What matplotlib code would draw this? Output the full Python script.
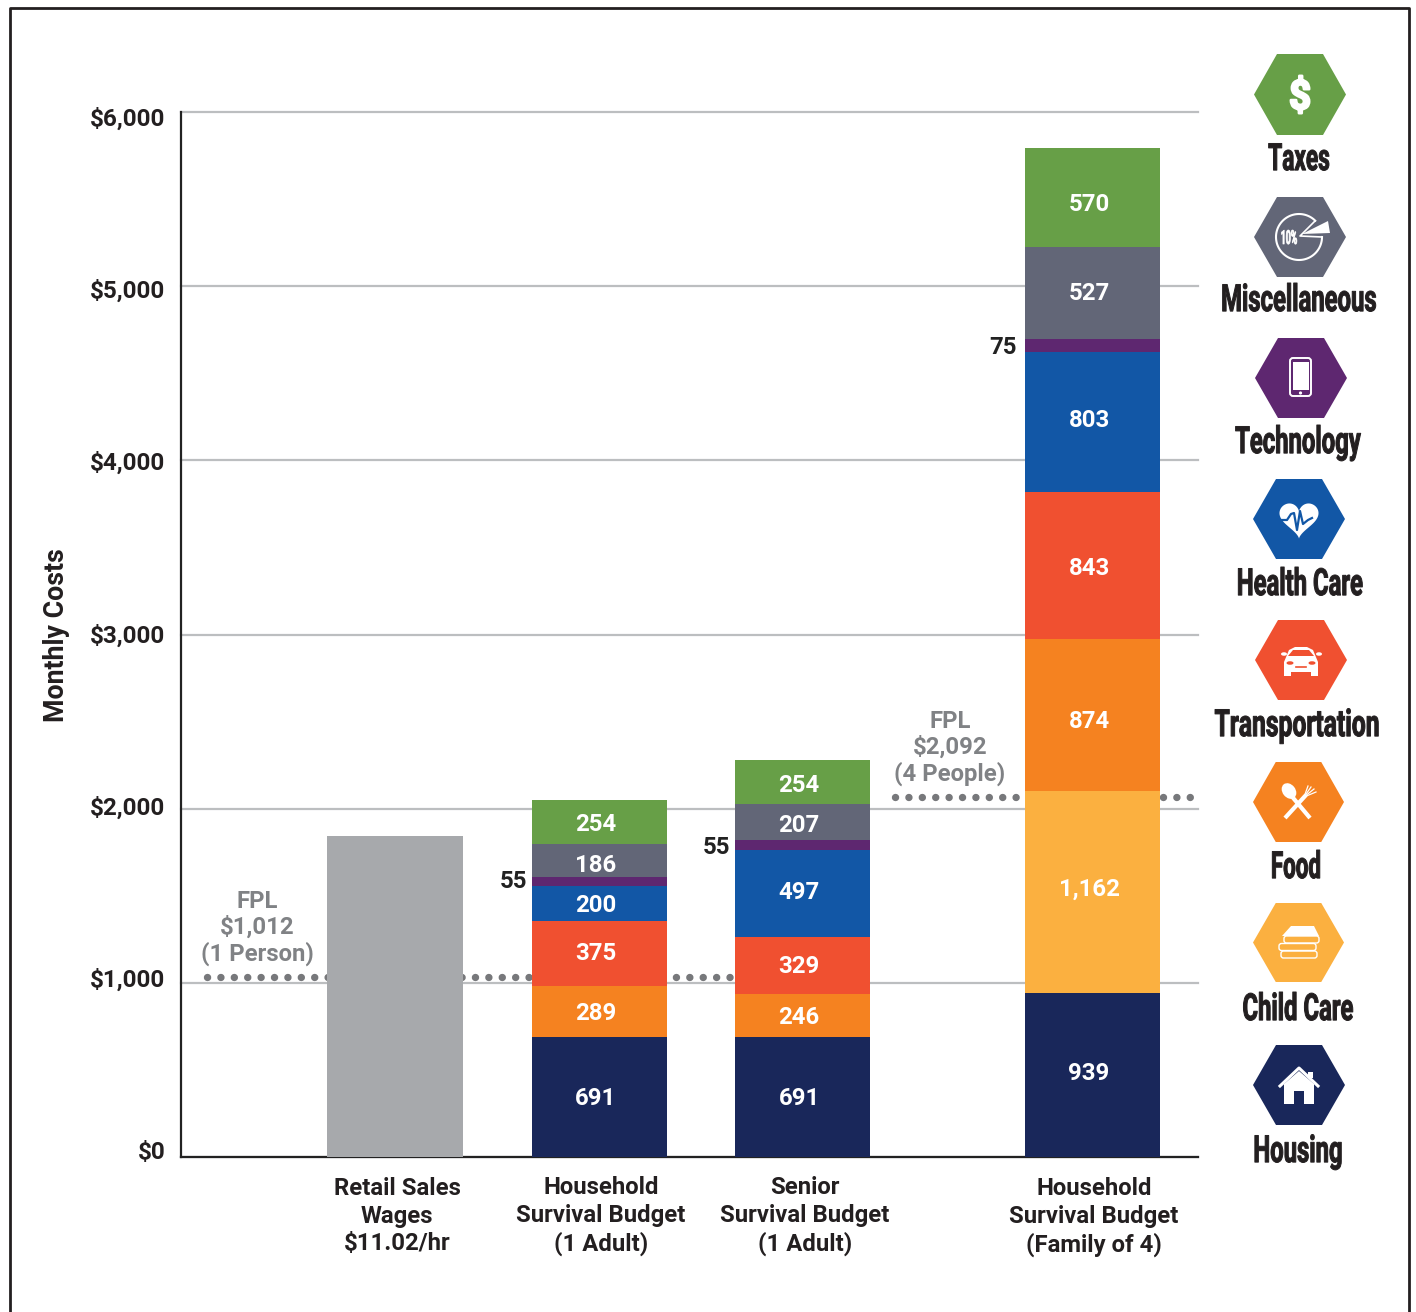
import numpy as np
import matplotlib
matplotlib.use("Agg")
import matplotlib.pyplot as plt
from matplotlib.patches import Polygon, Circle, Ellipse, FancyBboxPatch, Rectangle
from matplotlib.patheffects import AbstractPathEffect
from matplotlib.transforms import Affine2D

W, H = 1416, 1312

# values
categories = ["Retail Sales\nWages\n$11.02/hr", "Household\nSurvival Budget\n(1 Adult)",
              "Senior\nSurvival Budget\n(1 Adult)", "Household\nSurvival Budget\n(Family of 4)"]
retail_wage = [1843, 0, 0, 0]
housing = [0, 691, 691, 939]
child_care = [0, 0, 0, 1162]
food = [0, 289, 246, 874]
transportation = [0, 375, 329, 843]
health_care = [0, 200, 497, 803]
technology = [0, 55, 55, 75]
miscellaneous = [0, 186, 207, 527]
taxes = [0, 254, 254, 570]
y_ticks = [0, 1000, 2000, 3000, 4000, 5000, 6000]
y_tick_labels = ["$0", "$1,000", "$2,000", "$3,000", "$4,000", "$5,000", "$6,000"]
fpl_levels = [1033, 2066]
fpl_labels = ["FPL\n$1,012\n(1 Person)", "FPL\n$2,092\n(4 People)"]
legend_names = ["Taxes", "Miscellaneous", "Technology", "Health Care",
                "Transportation", "Food", "Child Care", "Housing"]

series = [housing, child_care, food, transportation, health_care, technology, miscellaneous, taxes]
colors = ["#19275A", "#FBB040", "#F58220", "#F05030", "#1257A6", "#5E2770", "#626677", "#679F47"]
legend_colors = colors[::-1]

# small vertical nudges of the value labels, in pixels (per series, per bar)
label_nudge = [[0, 2, 2, -2], [0, 0, 0, -3], [0, 2, 2, 7], [0, 0, 1, 3],
               [0, 2, -1, -2], [0, 0, 2, 2], [0, 5, 3, 0], [0, 2, 3, 7]]
outside_gap = [0, 5, 5, 8]

plt.rcParams["font.family"] = ["Roboto", "DejaVu Sans"]
plt.rcParams["font.weight"] = "bold"


class Squeeze(AbstractPathEffect):
    # the legend font is a tall condensed face, none is installed so reshape Roboto instead
    def __init__(self, cx, cy, sx, sy=1.0, stroke=0.0):
        super().__init__()
        self.cx, self.cy, self.sx, self.sy, self.stroke = cx, cy, sx, sy, stroke

    def draw_path(self, renderer, gc, tpath, affine, rgbFace=None):
        tr = affine + Affine2D().translate(-self.cx, -self.cy).scale(self.sx, self.sy).translate(self.cx, self.cy)
        gc0 = renderer.new_gc()
        gc0.copy_properties(gc)
        if self.stroke > 0:
            gc0.set_linewidth(self.stroke)
            gc0.set_foreground(rgbFace)
        else:
            gc0.set_linewidth(0)
        renderer.draw_path(gc0, tpath, tr, rgbFace)
        gc0.restore()


fig = plt.figure(figsize=(W / 100, H / 100), dpi=100)

# main axes, x axis in pixels so the uneven bar spacing is easy to place
ax = fig.add_axes([181 / W, 1 - 1157 / H, (1198 - 181) / W, (1157 - 112) / H])
ax.set_xlim(181, 1198)
ax.set_ylim(0, 6000)
for s in ["top", "right"]:
    ax.spines[s].set_visible(False)
ax.spines["left"].set_linewidth(1.6)
ax.spines["left"].set_color("#222222")
ax.spines["bottom"].set_linewidth(1.6)
ax.spines["bottom"].set_color("#222222")
ax.set_xticks([])
ax.set_yticks(y_ticks)
ax.set_yticklabels([])
ax.tick_params(length=0)
ax.grid(axis="y", color="#BCBEC0", linewidth=1.6, zorder=0, clip_on=False)
ax.set_axisbelow(True)

bar_x = [395, 599.5, 802.5, 1092.5]
bar_w = [136, 135, 135, 135]
px_per_dollar = (1157 - 112) / 6000

ax.bar(bar_x[0], retail_wage[0], width=bar_w[0], color="#A7A9AC", zorder=3)
bottom = np.zeros(4)
for k, (vals, col) in enumerate(zip(series, colors)):
    vals = np.array(vals)
    ax.bar(bar_x, vals, width=bar_w, bottom=bottom, color=col, zorder=3)
    for i in range(4):
        y_lab = bottom[i] + vals[i] / 2 - label_nudge[k][i] / px_per_dollar
        if vals[i] > 100:
            ax.text(bar_x[i] - 3.5, y_lab, f"{vals[i]:,}", color="white",
                    ha="center", va="center", fontsize=17.3, zorder=4)
        elif vals[i] > 0:
            ax.text(bar_x[i] - bar_w[i] / 2 - outside_gap[i], y_lab, str(vals[i]), color="#222222",
                    ha="right", va="center", fontsize=17.3, zorder=4)
    bottom += vals

# FPL dotted lines, they run behind the bars
dots = dict(color="#77787B", linewidth=5.3, linestyle=(0, (0.01, 1.81)), dash_capstyle="round", zorder=2)
ax.plot([206.5, 735], [fpl_levels[0]] * 2, **dots)
ax.plot([895, 1195], [fpl_levels[1]] * 2, **dots)

# overlay in figure pixels for the text and icons
ov = fig.add_axes([0, 0, 1, 1], zorder=5)
ov.set_xlim(0, W)
ov.set_ylim(H, 0)
ov.axis("off")

ov.plot([10, 10, 1409, 1409], [H, 8, 8, H], color="#231F20", linewidth=2)

tick_label_y = [1153, 980, 808, 636, 463, 291, 119]
for lab, y in zip(y_tick_labels, tick_label_y):
    ov.text(165.5, y, lab, ha="right", va="center", fontsize=17.5, color="#231F20")
ov.text(56.5, 635, "Monthly Costs", rotation=90, ha="center", va="center", fontsize=19.3, color="#231F20")

cat_x = [397, 601, 805, 1094]
cat_y = [1216, 1216, 1216, 1217]
for lab, x, y in zip(categories, cat_x, cat_y):
    ov.text(x, y, lab, ha="center", va="center", fontsize=17.2, color="#231F20", linespacing=1.27)

for lab, x, y in zip(fpl_labels, [257, 950], [928, 748]):
    ov.text(x, y, lab, ha="center", va="center", fontsize=17.2, color="#808285", linespacing=1.17)


def hexagon(x0, x1, y0, y1, col):
    q = (x1 - x0) / 4
    pts = [(x0, (y0 + y1) / 2), (x0 + q, y0), (x1 - q, y0), (x1, (y0 + y1) / 2), (x1 - q, y1), (x0 + q, y1)]
    ov.add_patch(Polygon(pts, closed=True, facecolor=col, edgecolor="none"))


hex_x = [(1254, 1346), (1254, 1346), (1255, 1347), (1253, 1345), (1255, 1347), (1253, 1344), (1253, 1344), (1253, 1345)]
hex_y = [(54, 135), (197, 277), (338, 418), (479, 559), (620, 700), (762, 842), (903, 982), (1045, 1125)]
name_x = [1299, 1299, 1298, 1300, 1297, 1296, 1298, 1298]
name_y = [160, 301, 443, 585, 726, 868, 1010, 1152]
name_sx = [0.68, 0.715, 0.715, 0.715, 0.74, 0.67, 0.715, 0.715]
for name, col, hx, hy, nx, ny, sx in zip(legend_names, legend_colors, hex_x, hex_y, name_x, name_y, name_sx):
    hexagon(hx[0], hx[1], hy[0], hy[1], col)
    ov.text(nx, ny, name, ha="center", va="center", fontsize=24, color="#231F20",
            path_effects=[Squeeze(nx, H - ny, sx, 1.125, 0.7)])

# icons
white = "white"
ov.text(1300, 98, "$", ha="center", va="center", fontsize=29, color=white,
        path_effects=[Squeeze(1300, H - 98, 0.95, 1.0, 1.8)])

# miscellaneous: pie with slice pulled out
t = np.radians(np.linspace(0, 315, 80))
ov.plot(1299 + 23 * np.cos(t), 237 + 23 * np.sin(t), color=white, linewidth=1.5)
ov.plot([1322, 1300, 1315], [237, 236, 221], color=white, linewidth=1.2)
ov.add_patch(Polygon([(1302, 234), (1328, 221), (1330, 233)], facecolor=white))
ov.text(1289, 239, "10%", ha="center", va="center", fontsize=14, color=white,
        path_effects=[Squeeze(1289, H - 239, 0.45, 1.0, 0.5)])

# phone
ov.add_patch(FancyBboxPatch((1290, 358), 21, 38, boxstyle="round,pad=0,rounding_size=3",
                            facecolor="none", edgecolor=white, linewidth=1.4))
ov.add_patch(Rectangle((1292.5, 362), 16, 28, facecolor=white))
ov.add_patch(Circle((1300.5, 393), 1.6, facecolor=white))

# heart with pulse
t = np.linspace(0, 2 * np.pi, 120)
hx = 16 * np.sin(t) ** 3
hy = 13 * np.cos(t) - 5 * np.cos(2 * t) - 2 * np.cos(3 * t) - np.cos(4 * t)
ov.add_patch(Polygon(np.c_[1299 + hx * 1.22, 518 - hy * 1.22], facecolor=white))
ov.plot([1279, 1287, 1291, 1294, 1297, 1300, 1303, 1308, 1312], [520, 520, 514, 513, 530, 511, 524, 520, 518],
        color="#1257A6", linewidth=1.6)

# car
ov.add_patch(Polygon([(1284, 672), (1284, 662), (1289, 650), (1295, 647), (1307, 647), (1313, 650),
                      (1318, 662), (1318, 672)], facecolor=white))
ov.add_patch(Polygon([(1288, 656), (1293, 650), (1309, 650), (1314, 656)], facecolor="#F05030"))
ov.add_patch(Rectangle((1284, 670), 7, 6, facecolor=white))
ov.add_patch(Rectangle((1311, 670), 7, 6, facecolor=white))
ov.add_patch(Ellipse((1284, 654), 6, 3.5, facecolor=white))
ov.add_patch(Ellipse((1319, 654), 6, 3.5, facecolor=white))
ov.add_patch(Ellipse((1290, 663), 7, 3.5, facecolor="#F05030"))
ov.add_patch(Ellipse((1312, 663), 7, 3.5, facecolor="#F05030"))
ov.plot([1296, 1306], [667, 667], color="#F05030", linewidth=1.2)

# spoon and fork
ov.plot([1289, 1310], [793, 818], color=white, linewidth=3, solid_capstyle="butt")
ov.add_patch(Ellipse((1289, 791), 13, 17, angle=-38, facecolor=white))
ov.plot([1285, 1306], [818, 795], color=white, linewidth=3, solid_capstyle="butt")
for tip in [(1308, 786), (1311, 787), (1314, 789), (1316, 792)]:
    ov.plot([1304, tip[0]], [797, tip[1]], color=white, linewidth=0.9)

# books
for y0, x0, x1 in [(936, 1284, 1319), (943.5, 1279, 1316), (951, 1281, 1317)]:
    ov.add_patch(FancyBboxPatch((x0, y0), x1 - x0, 7, boxstyle="round,pad=0,rounding_size=2.5",
                                facecolor="none", edgecolor=white, linewidth=1))
ov.add_patch(Polygon([(1282, 936), (1291, 926), (1314, 926), (1319, 936)], facecolor=white))

# house
ov.add_patch(Polygon([(1284, 1084), (1299, 1071), (1314, 1084), (1314, 1104), (1304, 1104), (1304, 1091),
                      (1294, 1091), (1294, 1104), (1284, 1104)], facecolor=white))
ov.plot([1280, 1299, 1318], [1086, 1068, 1086], color=white, linewidth=2.2)
ov.add_patch(Rectangle((1308, 1072), 5, 6, facecolor=white))

fig.savefig("out.png", dpi=100, facecolor="white")
